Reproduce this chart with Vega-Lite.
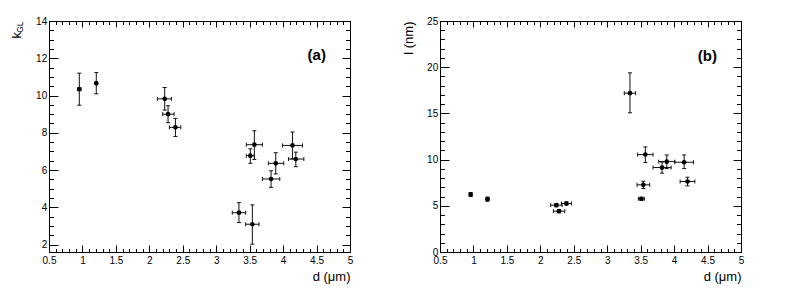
{
  "$schema": "https://vega.github.io/schema/vega-lite/v6.json",
  "background": "white",
  "padding": {"left": 9, "top": 15, "right": 5, "bottom": 5},
  "bounds": "flush",
  "spacing": 90,
  "config": {
    "font": "Liberation Sans",
    "view": {"stroke": "black", "strokeWidth": 1},
    "axis": {"grid": false, "domainOpacity": 0, "labelFont": "Liberation Sans", "labelFontSize": 10, "labelColor": "black", "tickColor": "black", "labelFlush": false, "titleFont": "Liberation Sans", "titleFontWeight": "normal", "titleColor": "black"}
  },
  "datasets": {
    "a": [
      {"d": 0.953, "dlo": 0.93, "dhi": 0.976, "v": 10.34, "vlo": 9.48, "vhi": 11.2},
      {"d": 1.207, "dlo": 1.19, "dhi": 1.224, "v": 10.66, "vlo": 10.09, "vhi": 11.23},
      {"d": 2.23, "dlo": 2.12, "dhi": 2.33, "v": 9.82, "vlo": 9.22, "vhi": 10.43},
      {"d": 2.28, "dlo": 2.2, "dhi": 2.37, "v": 9.0, "vlo": 8.54, "vhi": 9.45},
      {"d": 2.39, "dlo": 2.3, "dhi": 2.47, "v": 8.29, "vlo": 7.8, "vhi": 8.77},
      {"d": 3.34, "dlo": 3.24, "dhi": 3.44, "v": 3.71, "vlo": 3.18, "vhi": 4.25},
      {"d": 3.54, "dlo": 3.44, "dhi": 3.64, "v": 3.09, "vlo": 2.02, "vhi": 4.13},
      {"d": 3.51, "dlo": 3.45, "dhi": 3.57, "v": 6.77, "vlo": 6.36, "vhi": 7.14},
      {"d": 3.57, "dlo": 3.45, "dhi": 3.69, "v": 7.36, "vlo": 6.57, "vhi": 8.11},
      {"d": 3.82, "dlo": 3.69, "dhi": 3.95, "v": 5.52, "vlo": 5.07, "vhi": 5.96},
      {"d": 3.89, "dlo": 3.78, "dhi": 4.01, "v": 6.36, "vlo": 5.79, "vhi": 6.93},
      {"d": 4.14, "dlo": 3.99, "dhi": 4.29, "v": 7.32, "vlo": 6.6, "vhi": 8.04},
      {"d": 4.19, "dlo": 4.08, "dhi": 4.31, "v": 6.59, "vlo": 6.18, "vhi": 6.96}
    ],
    "b": [
      {"d": 0.958, "dlo": 0.94, "dhi": 0.976, "v": 6.22, "vlo": 6.0, "vhi": 6.44},
      {"d": 1.21, "dlo": 1.19, "dhi": 1.23, "v": 5.72, "vlo": 5.5, "vhi": 5.94},
      {"d": 2.24, "dlo": 2.155, "dhi": 2.325, "v": 5.07, "vlo": 4.9, "vhi": 5.24},
      {"d": 2.28, "dlo": 2.195, "dhi": 2.365, "v": 4.42, "vlo": 4.25, "vhi": 4.59},
      {"d": 2.39, "dlo": 2.315, "dhi": 2.465, "v": 5.25, "vlo": 5.08, "vhi": 5.42},
      {"d": 3.34, "dlo": 3.255, "dhi": 3.425, "v": 17.19, "vlo": 15.07, "vhi": 19.39},
      {"d": 3.51, "dlo": 3.465, "dhi": 3.555, "v": 5.76, "vlo": 5.6, "vhi": 5.92},
      {"d": 3.54, "dlo": 3.445, "dhi": 3.635, "v": 7.27, "vlo": 6.87, "vhi": 7.66},
      {"d": 3.57, "dlo": 3.455, "dhi": 3.685, "v": 10.54, "vlo": 9.68, "vhi": 11.37},
      {"d": 3.82, "dlo": 3.685, "dhi": 3.955, "v": 9.14, "vlo": 8.53, "vhi": 9.75},
      {"d": 3.89, "dlo": 3.77, "dhi": 4.01, "v": 9.78, "vlo": 9.03, "vhi": 10.5},
      {"d": 4.15, "dlo": 4.01, "dhi": 4.29, "v": 9.71, "vlo": 9.03, "vhi": 10.5},
      {"d": 4.2, "dlo": 4.09, "dhi": 4.31, "v": 7.63, "vlo": 7.16, "vhi": 8.09}
    ]
  },
  "hconcat": [
    {
      "width": 301, "height": 231,
      "data": {"name": "a"},
      "layer": [
        {"mark": {"type": "rule", "strokeWidth": 1, "color": "#111"},
         "encoding": {
           "x": {"field": "dlo", "type": "quantitative", "scale": {"domain": [0.5, 5], "nice": false, "zero": false}, "axis": {"orient": "bottom", "offset": -3.5, "values": [0.5,0.6,0.7,0.8,0.9,1,1.1,1.2,1.3,1.4,1.5,1.6,1.7,1.8,1.9,2,2.1,2.2,2.3,2.4,2.5,2.6,2.7,2.8,2.9,3,3.1,3.2,3.3,3.4,3.5,3.6,3.7,3.8,3.9,4,4.1,4.2,4.3,4.4,4.5,4.6,4.7,4.8,4.9,5], "labels": false, "tickSize": 3.5, "title": null}},
           "x2": {"field": "dhi"},
           "y": {"field": "v", "type": "quantitative", "scale": {"domain": [1.6, 14], "nice": false, "zero": false}, "axis": {"orient": "left", "offset": -4.5, "values": [2,2.5,3,3.5,4,4.5,5,5.5,6,6.5,7,7.5,8,8.5,9,9.5,10,10.5,11,11.5,12,12.5,13,13.5,14], "labels": false, "tickSize": 4.5, "title": null}}
         }},
        {"mark": {"type": "rule", "strokeWidth": 1, "color": "#111"},
         "encoding": {
           "x": {"field": "d", "type": "quantitative", "axis": {"orient": "top", "offset": -3.5, "values": [0.5,0.6,0.7,0.8,0.9,1,1.1,1.2,1.3,1.4,1.5,1.6,1.7,1.8,1.9,2,2.1,2.2,2.3,2.4,2.5,2.6,2.7,2.8,2.9,3,3.1,3.2,3.3,3.4,3.5,3.6,3.7,3.8,3.9,4,4.1,4.2,4.3,4.4,4.5,4.6,4.7,4.8,4.9,5], "labels": false, "tickSize": 3.5, "title": null}},
           "y": {"field": "vlo", "type": "quantitative", "axis": {"orient": "right", "offset": -4.5, "values": [2,2.5,3,3.5,4,4.5,5,5.5,6,6.5,7,7.5,8,8.5,9,9.5,10,10.5,11,11.5,12,12.5,13,13.5,14], "labels": false, "tickSize": 4.5, "title": null}},
           "y2": {"field": "vhi"}
         }},
        {"mark": {"type": "point", "shape": "M-1,0L1,0", "size": 16, "filled": false, "strokeWidth": 1, "color": "#111", "opacity": 1},
         "encoding": {"x": {"field": "d", "type": "quantitative", "axis": null}, "y": {"field": "vlo", "type": "quantitative", "axis": null}}},
        {"mark": {"type": "point", "shape": "M-1,0L1,0", "size": 16, "filled": false, "strokeWidth": 1, "color": "#111", "opacity": 1},
         "encoding": {"x": {"field": "d", "type": "quantitative", "axis": null}, "y": {"field": "vhi", "type": "quantitative", "axis": null}}},
        {"mark": {"type": "point", "shape": "M0,-1L0,1", "size": 16, "filled": false, "strokeWidth": 1, "color": "#111", "opacity": 1},
         "encoding": {"x": {"field": "dlo", "type": "quantitative", "axis": null}, "y": {"field": "v", "type": "quantitative", "axis": null}}},
        {"mark": {"type": "point", "shape": "M0,-1L0,1", "size": 16, "filled": false, "strokeWidth": 1, "color": "#111", "opacity": 1},
         "encoding": {"x": {"field": "dhi", "type": "quantitative", "axis": null}, "y": {"field": "v", "type": "quantitative", "axis": null}}},
        {"mark": {"type": "point", "filled": true, "size": 22, "color": "black", "opacity": 1},
         "encoding": {
           "x": {"field": "d", "type": "quantitative", "axis": {"orient": "bottom", "offset": -7, "values": [0.5,1,1.5,2,2.5,3,3.5,4,4.5,5], "format": "~g", "tickSize": 7, "labelPadding": 3.6, "title": "d (μm)", "titleFontSize": 13, "titleX": 301, "titleY": 35, "titleAlign": "right", "titleBaseline": "alphabetic"}},
           "y": {"field": "v", "type": "quantitative", "axis": {"orient": "left", "offset": -9, "values": [2,4,6,8,10,12,14], "format": "~g", "tickSize": 9, "labelPadding": 2.3, "title": "k", "titleFontSize": 13, "titleAngle": -90, "titleX": -38, "titleY": 10.5, "titleAlign": "right", "titleBaseline": "alphabetic"}}
         }},
        {"data": {"values": [{"label": "(a)"}]},
         "mark": {"type": "text", "font": "Liberation Sans", "fontWeight": "bold", "fontSize": 15, "align": "right", "baseline": "middle", "color": "black"},
         "encoding": {
           "text": {"field": "label"},
           "x": {"datum": 4.64, "type": "quantitative", "axis": {"orient": "top", "offset": -6, "values": [0.5,1,1.5,2,2.5,3,3.5,4,4.5,5], "labels": false, "tickSize": 6, "title": null}},
           "y": {"datum": 12.16, "type": "quantitative", "axis": {"orient": "right", "offset": -8, "values": [2,4,6,8,10,12,14], "labels": false, "tickSize": 8, "title": "GL", "titleFontSize": 8.5, "titleAngle": -90, "titleX": -320, "titleY": 0, "titleAlign": "right", "titleBaseline": "alphabetic"}}
         }}
      ],
      "resolve": {"axis": {"x": "independent", "y": "independent"}}
    },
    {
      "width": 301, "height": 231,
      "data": {"name": "b"},
      "layer": [
        {"mark": {"type": "rule", "strokeWidth": 1, "color": "#111"},
         "encoding": {
           "x": {"field": "dlo", "type": "quantitative", "scale": {"domain": [0.5, 5], "nice": false, "zero": false}, "axis": {"orient": "bottom", "offset": -3.5, "values": [0.5,0.6,0.7,0.8,0.9,1,1.1,1.2,1.3,1.4,1.5,1.6,1.7,1.8,1.9,2,2.1,2.2,2.3,2.4,2.5,2.6,2.7,2.8,2.9,3,3.1,3.2,3.3,3.4,3.5,3.6,3.7,3.8,3.9,4,4.1,4.2,4.3,4.4,4.5,4.6,4.7,4.8,4.9,5], "labels": false, "tickSize": 3.5, "title": null}},
           "x2": {"field": "dhi"},
           "y": {"field": "v", "type": "quantitative", "scale": {"domain": [0, 25], "nice": false, "zero": false}, "axis": {"orient": "left", "offset": -4.5, "values": [0,1,2,3,4,5,6,7,8,9,10,11,12,13,14,15,16,17,18,19,20,21,22,23,24,25], "labels": false, "tickSize": 4.5, "title": null}}
         }},
        {"mark": {"type": "rule", "strokeWidth": 1, "color": "#111"},
         "encoding": {
           "x": {"field": "d", "type": "quantitative", "axis": {"orient": "top", "offset": -3.5, "values": [0.5,0.6,0.7,0.8,0.9,1,1.1,1.2,1.3,1.4,1.5,1.6,1.7,1.8,1.9,2,2.1,2.2,2.3,2.4,2.5,2.6,2.7,2.8,2.9,3,3.1,3.2,3.3,3.4,3.5,3.6,3.7,3.8,3.9,4,4.1,4.2,4.3,4.4,4.5,4.6,4.7,4.8,4.9,5], "labels": false, "tickSize": 3.5, "title": null}},
           "y": {"field": "vlo", "type": "quantitative", "axis": {"orient": "right", "offset": -4.5, "values": [0,1,2,3,4,5,6,7,8,9,10,11,12,13,14,15,16,17,18,19,20,21,22,23,24,25], "labels": false, "tickSize": 4.5, "title": null}},
           "y2": {"field": "vhi"}
         }},
        {"mark": {"type": "point", "shape": "M-1,0L1,0", "size": 16, "filled": false, "strokeWidth": 1, "color": "#111", "opacity": 1},
         "encoding": {"x": {"field": "d", "type": "quantitative", "axis": null}, "y": {"field": "vlo", "type": "quantitative", "axis": null}}},
        {"mark": {"type": "point", "shape": "M-1,0L1,0", "size": 16, "filled": false, "strokeWidth": 1, "color": "#111", "opacity": 1},
         "encoding": {"x": {"field": "d", "type": "quantitative", "axis": null}, "y": {"field": "vhi", "type": "quantitative", "axis": null}}},
        {"mark": {"type": "point", "shape": "M0,-1L0,1", "size": 16, "filled": false, "strokeWidth": 1, "color": "#111", "opacity": 1},
         "encoding": {"x": {"field": "dlo", "type": "quantitative", "axis": null}, "y": {"field": "v", "type": "quantitative", "axis": null}}},
        {"mark": {"type": "point", "shape": "M0,-1L0,1", "size": 16, "filled": false, "strokeWidth": 1, "color": "#111", "opacity": 1},
         "encoding": {"x": {"field": "dhi", "type": "quantitative", "axis": null}, "y": {"field": "v", "type": "quantitative", "axis": null}}},
        {"mark": {"type": "point", "filled": true, "size": 22, "color": "black", "opacity": 1},
         "encoding": {
           "x": {"field": "d", "type": "quantitative", "axis": {"orient": "bottom", "offset": -7, "values": [0.5,1,1.5,2,2.5,3,3.5,4,4.5,5], "format": "~g", "tickSize": 7, "labelPadding": 3.6, "title": "d (μm)", "titleFontSize": 13, "titleX": 301, "titleY": 35, "titleAlign": "right", "titleBaseline": "alphabetic"}},
           "y": {"field": "v", "type": "quantitative", "axis": {"orient": "left", "offset": -9, "values": [0,5,10,15,20,25], "format": "~g", "tickSize": 9, "labelPadding": 2.3, "title": "l (nm)", "titleFontSize": 13, "titleAngle": -90, "titleX": -37, "titleY": 0, "titleAlign": "right", "titleBaseline": "alphabetic"}}
         }},
        {"data": {"values": [{"label": "(b)"}]},
         "mark": {"type": "text", "font": "Liberation Sans", "fontWeight": "bold", "fontSize": 15, "align": "right", "baseline": "middle", "color": "black"},
         "encoding": {
           "text": {"field": "label"},
           "x": {"datum": 4.64, "type": "quantitative", "axis": {"orient": "top", "offset": -6, "values": [0.5,1,1.5,2,2.5,3,3.5,4,4.5,5], "labels": false, "tickSize": 6, "title": null}},
           "y": {"datum": 21.2, "type": "quantitative", "axis": {"orient": "right", "offset": -8, "values": [0,5,10,15,20,25], "labels": false, "tickSize": 8, "title": null}}
         }}
      ],
      "resolve": {"axis": {"x": "independent", "y": "independent"}}
    }
  ]
}
